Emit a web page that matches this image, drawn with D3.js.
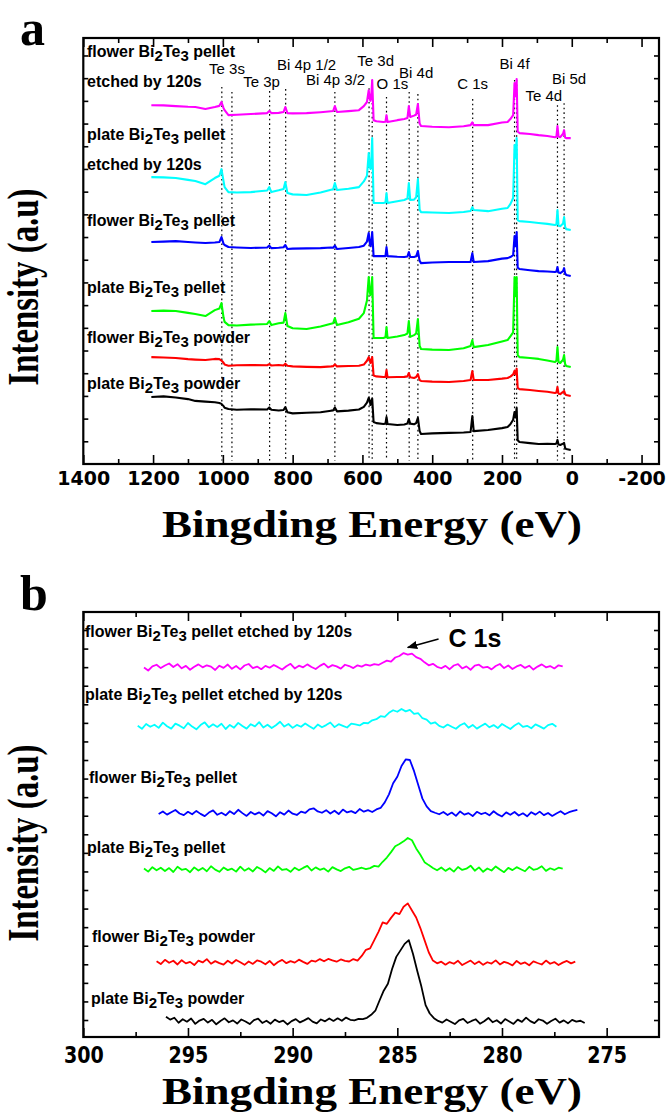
<!DOCTYPE html>
<html><head><meta charset="utf-8">
<script src="https://cdn.jsdelivr.net/npm/d3@7"></script>
<style>body{margin:0;background:#fff}svg{display:block}</style>
</head><body>
<svg id="c" width="670" height="1117"></svg>
<script>
// ---------------- DATA ----------------
// Panel a: XPS survey spectra (binding energy in eV, intensity in a.u.)
const surveyEnergy = [1205,1170,1135,1100,1079,1050,1023,1010,1004,998,995,984,960,920,873,867,861,840,826,821,815,800,760,720,690,684,679,673,640,610,596,587,582,579,577,575,572,568,560,540,534,531,528,500,480,471,467,463,452,446,441,436,432,400,352,310,290,285,281,240,200,184,176,168,164,161,158,155,150,120,95,70,48,44,41,38,33,25,22,19,16,3];

const surveyPlatePowder = [29.5,29.8,29.3,28.6,27.8,27.5,27.2,26.9,26.5,25.5,
 24.8,24.2,23.9,24.1,24.0,24.9,23.9,23.6,23.8,25.1,
 22.8,22.3,22.6,22.8,23.5,23.6,24.9,23.2,23.5,24.0,
 25.2,27.0,29.1,28.0,26.0,26.5,28.8,18.5,18.0,17.6,
 17.8,20.7,17.6,17.2,17.4,17.8,19.8,17.8,17.5,18.0,
 20.3,14.5,13.2,13.5,13.7,13.9,14.1,21.1,14.5,15.0,
 15.8,16.3,17.5,19.5,22.9,20.5,24.7,10.5,9.7,9.2,
 8.8,8.9,8.8,9.0,10.6,8.6,8.4,9.0,9.3,7.0,
 6.6,6.2];
const surveyFlowerPowder = [47.1,46.9,46.7,46.2,46.0,45.8,46.3,46.2,45.6,44.6,
 43.8,43.3,43.5,43.6,43.5,44.0,43.4,43.6,43.4,44.2,
 43.3,43.0,42.8,42.7,43.0,43.1,43.9,43.0,43.2,43.3,
 43.8,45.5,47.1,46.0,44.5,45.0,47.1,39.0,38.6,38.3,
 38.4,41.4,38.2,38.3,38.4,38.6,40.1,38.2,37.9,38.3,
 39.6,37.0,36.6,36.3,36.1,36.6,37.0,41.0,37.0,37.0,
 37.6,37.9,38.5,39.5,41.0,39.5,42.0,33.5,33.0,32.6,
 32.2,31.8,31.3,31.5,33.9,31.0,30.8,31.8,32.2,30.8,
 30.4,30.0];
const surveyPlatePellet = [67.4,67.6,67.4,66.6,66.1,65.2,67.8,68.5,70.9,64.5,
 62.6,61.2,61.0,61.4,61.7,63.0,61.2,62.0,62.3,66.5,
 60.8,59.8,59.5,60.6,61.8,62.0,64.3,61.2,62.5,64.0,
 66.5,72.0,82.4,76.0,74.4,76.0,82.4,55.5,55.5,55.5,
 55.8,60.3,55.5,56.2,56.8,57.5,63.0,56.0,56.8,57.5,
 63.9,52.0,50.7,50.4,50.2,51.0,52.0,54.6,51.5,52.4,
 54.0,54.6,56.2,58.0,82.4,74.0,82.4,48.0,47.1,46.7,
 46.3,45.6,44.9,45.5,51.5,45.0,44.5,46.0,48.0,44.0,
 43.2,42.7];
const surveyFlowerPellet = [97.8,98.0,98.2,97.8,97.6,97.4,97.6,97.8,100.0,97.0,
 96.5,95.6,95.4,95.2,95.4,96.2,95.1,95.3,95.5,96.5,
 94.7,94.9,95.0,95.1,95.4,95.3,96.2,94.7,95.2,95.6,
 96.2,98.0,101.8,97.5,96.0,97.0,102.2,91.6,91.6,91.6,
 91.6,95.6,91.6,91.3,91.2,91.4,93.4,91.2,91.2,91.5,
 93.8,89.5,88.5,88.8,89.0,89.0,89.0,92.9,89.0,89.4,
 90.5,90.7,91.2,92.0,100.4,96.0,102.2,86.5,85.9,85.4,
 85.0,84.8,84.6,84.8,86.8,84.4,84.1,85.0,86.3,84.0,
 83.3,82.8];
const surveyPlateEtched = [126.4,126.3,126.0,125.2,124.7,123.3,126.0,127.0,129.9,124.5,
 122.0,119.8,119.6,119.8,120.5,122.0,119.8,120.6,121.2,124.2,
 119.4,118.8,118.5,119.6,120.8,121.0,123.8,120.7,121.3,122.0,
 124.5,127.0,137.0,131.0,130.0,131.5,143.6,115.0,115.0,115.0,
 115.2,119.4,115.0,115.8,116.3,117.0,123.8,116.3,116.5,117.5,
 125.5,112.0,111.0,110.8,110.6,111.0,111.5,113.2,111.9,111.4,
 112.5,112.8,114.5,117.2,140.5,135.0,143.6,107.5,107.0,106.6,
 106.2,105.8,105.3,105.6,111.9,105.0,104.8,106.0,108.8,104.5,
 103.5,103.1];
const surveyFlowerEtched = [158.1,158.0,157.7,157.4,157.3,156.4,157.3,157.8,159.5,156.8,
 155.9,153.7,153.9,154.2,154.6,155.5,154.6,154.7,155.1,157.3,
 154.6,154.5,154.6,155.0,155.4,155.5,157.7,155.1,155.5,155.9,
 157.7,159.5,164.7,161.0,160.0,161.5,169.2,151.5,151.0,150.7,
 150.8,153.7,150.7,151.5,152.0,152.4,157.7,152.9,153.5,154.0,
 158.6,150.0,148.9,148.6,148.4,148.8,149.3,150.5,149.3,149.3,
 150.5,150.7,152.0,153.7,167.8,162.0,169.6,146.5,145.8,145.4,
 144.9,144.5,144.0,144.2,148.9,144.3,144.0,145.5,147.1,143.8,
 143.6,143.6];

const surveyNames = ["plate Bi_2Te_3 powder","flower Bi_2Te_3 powder","plate Bi_2Te_3 pellet","flower Bi_2Te_3 pellet","plate Bi_2Te_3 pellet etched by 120s","flower Bi_2Te_3 pellet etched by 120s"];
const seriesColors = ["#000000","#ff0000","#00ff00","#0000ff","#00ffff","#ff00ff"];

// reference lines for the core levels (eV) and their upper end (a.u.)
const peakLineEnergy = [1003,974,866,820,679,581,572,531,466,441,284,164,158,41,22];
const peakLineTop = [166.1,163.9,164.3,165.2,163.9,165.6,169.2,161.7,163.9,163.0,160.8,169.2,169.2,158.1,159.0];
const peakLabels = ["Te 3s","Te 3p","Bi 4p 1/2","Bi 4p 3/2","Te 3d","O 1s","Bi 4d","C 1s","Bi 4f","Bi 5d","Te 4d"];

const surveyTickLabels = [1400,1200,1000,800,600,400,200,0,-200];
const surveyMinorTicks = [1300,1100,900,700,500,300,100,-100];

// Panel b: C 1s high resolution spectra; first energy of each scan (eV), scan step 0.2 eV
const c1sStart = [296.05,296.5,297.1,296.4,297.4,297.1];
const c1sStep = 0.2;
const c1sPlatePowder = [1.8,0.2,1.2,-1.5,0.4,-0.9,0.8,-2.1,-0.3,0.6,
 -1.4,0.1,-2.3,-0.5,0.9,-1.2,-0.2,-1.9,0.3,-0.8,
 -2.2,-0.1,0.7,-1.6,-0.4,-2.0,0.2,-1.1,-0.3,-2.4,
 -0.6,0.5,-1.3,-0.2,1.0,-0.9,-1.8,0.3,-0.7,0.8,
 -0.5,0.9,-0.4,1.3,0.1,-0.2,0.6,
 0.5,1.2,2.8,5.0,10.5,15.8,19.5,27.5,34.0,37.5,41.0,43.0,35.5,26.5,18.0,8.0,3.5,1.0,-0.5,
 -1.4,0.3,-0.9,-2.2,-0.2,0.6,-1.6,-0.5,0.4,-2.0,
 -0.7,1.1,-1.2,-0.1,-1.9,0.5,-0.8,-2.1,0.2,-1.0,
 1.3,-0.6,-1.7,0.4,-0.3,-2.0,-0.5,0.7,-1.4,-0.2,
 -1.8,0.1,-0.9,-0.4,-1.6];
const c1sFlowerPowder = [31.6,30.1,32.4,30.8,31.9,29.9,32.2,30.5,31.3,29.6,
 32.0,31.0,32.8,30.3,31.7,30.6,29.8,31.9,30.4,32.3,
 31.1,29.7,31.5,30.2,32.1,31.4,30.0,31.8,29.5,31.2,
 32.4,30.6,31.7,30.9,32.5,31.3,30.2,32.0,31.5,32.8,
 31.6,32.9,32.1,31.4,32.6,31.8,
 31.5,32.8,32.0,34.5,37.8,38.6,43.0,47.5,52.6,51.8,55.0,57.8,57.0,61.0,62.8,59.0,55.2,49.5,43.0,36.5,32.0,30.5,
 31.4,29.8,31.2,30.3,31.9,29.6,30.8,32.0,30.1,31.5,
 29.7,31.1,30.4,32.1,29.9,31.3,30.6,29.4,31.8,30.2,
 31.0,29.5,31.6,30.7,29.9,32.0,30.3,31.2,29.6,30.9,
 31.8,30.5,31.4];
const c1sPlatePellet = [81.6,79.9,82.3,80.6,82.0,80.2,81.8,79.7,82.5,80.9,
 81.4,79.6,82.2,80.5,81.9,80.1,82.8,81.0,79.8,82.1,
 80.7,81.5,79.9,82.6,80.4,81.7,80.0,82.4,81.2,79.5,
 81.8,80.3,82.7,80.8,81.3,79.8,82.0,80.6,81.9,83.0,
 80.5,82.2,80.9,81.6,79.9,82.3,81.1,80.2,81.7,82.5,
 80.8,81.4,82.0,81.2,
 81.8,83.0,82.6,85.2,87.5,90.4,93.6,94.8,96.2,98.0,96.8,92.4,89.0,85.0,83.4,81.9,
 80.6,82.1,80.3,81.7,79.9,82.4,80.8,81.5,83.1,80.4,
 82.2,79.8,81.6,80.5,82.7,81.0,79.6,81.9,80.7,82.3,
 81.2,80.1,82.5,80.9,81.4,82.8,80.3,81.7,80.8,82.0,
 81.5];
const c1sFlowerPellet = [110.9,112.3,110.6,111.9,113.1,111.2,110.3,112.1,110.8,112.6,
 111.0,109.8,111.7,112.9,110.5,111.6,110.2,112.4,110.9,113.2,
 111.4,109.9,112.0,110.7,111.8,110.1,112.5,111.3,109.7,111.9,
 110.6,112.8,111.1,110.4,112.2,111.5,113.4,114.0,112.3,111.6,
 113.0,111.2,112.7,110.9,113.3,111.8,112.5,111.4,113.6,112.2,
 113.0,
 112.0,113.4,114.2,117.2,121.5,127.5,131.0,136.8,140.3,140.0,134.0,126.5,119.2,115.0,112.5,111.6,
 110.8,112.0,110.4,111.7,109.9,112.3,110.6,111.4,109.8,112.1,
 110.9,111.6,110.2,112.4,110.7,109.6,111.8,110.5,112.0,110.1,
 111.3,109.7,111.9,110.6,112.2,110.3,111.5,109.9,111.2,112.4,
 110.8,111.9,112.6,113.1];
const c1sPlateEtched = [158.4,156.8,159.4,157.9,159.0,157.3,160.1,158.2,156.9,159.6,
 158.5,157.1,159.9,158.0,156.5,158.8,160.3,157.6,159.2,157.8,
 159.5,156.7,158.9,157.4,160.0,158.3,156.9,159.3,158.1,160.4,
 157.5,159.0,157.2,158.7,160.6,158.0,159.4,157.3,158.9,157.9,
 159.7,158.2,156.8,159.1,157.6,158.8,160.2,157.7,159.3,158.4,
 157.5,159.6,
 159.2,158.6,160.0,159.8,161.4,162.0,163.6,163.2,165.4,166.8,166.0,167.5,166.2,167.0,164.8,165.2,162.5,161.8,159.6,160.3,158.4,
 157.5,159.1,157.9,156.8,158.7,159.8,157.4,158.9,156.9,158.3,
 159.6,157.6,158.8,157.2,159.4,158.0,156.7,158.6,159.9,157.8,
 158.4,157.1,159.2,158.1,156.9,158.8,159.5,157.9];
const c1sFlowerEtched = [189.8,188.2,190.4,191.3,189.5,190.9,192.0,190.1,191.6,189.4,
 190.7,188.6,190.2,191.5,189.9,191.0,190.3,188.5,190.8,189.6,
 191.4,189.1,190.6,188.8,190.9,191.7,189.5,190.3,188.9,190.7,
 189.7,191.2,190.0,188.7,190.5,191.8,189.3,190.8,189.9,191.5,
 190.1,189.0,190.7,191.9,189.8,191.1,190.4,189.2,191.3,190.6,
 189.5,191.0,190.3,191.4,
 190.8,191.6,191.2,192.4,193.5,193.0,195.2,196.0,197.6,196.8,197.3,195.4,194.5,192.6,191.0,191.8,190.2,
 189.4,190.7,188.9,190.9,191.6,189.3,190.4,188.6,190.8,191.3,
 189.7,190.2,188.8,190.6,191.7,189.5,190.9,189.0,190.4,191.2,
 189.6,190.8,188.7,190.3,191.5,189.9,190.6,189.3,191.0,190.4];
const c1sTickLabels = [300,295,290,285,280,275];
const c1sMinorTicks = [297.5,292.5,287.5,282.5,277.5];

// ---------------- DRAWING ----------------
const svg = d3.select("#c");
const SANS = "'Liberation Sans', Arial, sans-serif";
const SERIF = "'Liberation Serif', 'Times New Roman', serif";
const TICKF = "'DejaVu Sans', sans-serif";

const xA = d3.scaleLinear().domain([1400, -250]).range([83.3, 659]);
const yA = d3.scaleLinear().domain([0, 187.7]).range([464, 38]);
const xB = d3.scaleLinear().domain([300, 272.5]).range([83.3, 659]);
const yB = d3.scaleLinear().domain([-9.15, 219.7]).range([1037, 612]);

function frame(g, x, y, major, minor, yt, pad, fs, sx) {
  const [x0, x1] = x.range(), [yb, yt0] = y.range();
  const clean = s => { s.select(".domain").remove(); s.selectAll(".tick line").attr("stroke","#000").attr("stroke-width",1.6); };
  g.append("g").attr("transform",`translate(0,${yb})`).call(d3.axisBottom(x).tickValues(minor).tickSize(-5).tickFormat("")).call(clean);
  const ax = g.append("g").attr("transform",`translate(0,${yb})`)
    .call(d3.axisBottom(x).tickValues(major).tickSize(-9).tickPadding(pad).tickFormat(d => String(d))).call(clean);
  ax.selectAll("text").attr("font-family",TICKF).attr("font-weight","bold").attr("font-size",fs)
    .attr("fill","#000").attr("transform",`scale(${sx},1)`);
  g.append("g").attr("transform",`translate(0,${yt0})`).call(d3.axisTop(x).tickValues(minor).tickSize(-5).tickFormat("")).call(clean);
  g.append("g").attr("transform",`translate(0,${yt0})`).call(d3.axisTop(x).tickValues(major).tickSize(-9).tickFormat("")).call(clean);
  g.append("g").attr("transform",`translate(${x0},0)`).call(d3.axisLeft(y).tickValues(yt).tickSize(-5).tickFormat("")).call(clean);
  g.append("g").attr("transform",`translate(${x1},0)`).call(d3.axisRight(y).tickValues(yt).tickSize(-5).tickFormat("")).call(clean);
  g.append("rect").attr("x",x0).attr("y",yt0).attr("width",x1-x0).attr("height",yb-yt0)
    .attr("fill","none").attr("stroke","#000").attr("stroke-width",2.2);
}

function stretched(g, str, cx, by, size, targetW, family) {
  const t = g.append("text").attr("font-family",family).attr("font-weight","bold")
    .attr("font-size",size).attr("text-anchor","middle").text(str);
  const L = t.node().getComputedTextLength();
  t.attr("transform",`translate(${cx},${by}) scale(${targetW/L},1)`);
}
function yTitle(g, cx, cy, len, sx) {
  const t = g.append("text").attr("font-family",SERIF).attr("font-weight","bold")
    .attr("font-size",30).attr("text-anchor","middle").text("Intensity (a.u)");
  const L = t.node().getComputedTextLength();
  t.attr("font-size", 30*len/L);
  t.attr("transform",`translate(${cx},${cy}) scale(${sx},1) rotate(-90)`);
}
function sampleLabel(g, str, x, y, size) {
  const t = g.append("text").attr("x",x).attr("y",y).attr("font-family",SANS)
    .attr("font-weight","bold").attr("font-size",size).attr("fill","#000");
  let low = false;
  str.split(/(_\d)/).filter(s => s.length).forEach(p => {
    if (p[0] === "_") { t.append("tspan").attr("dy",4).attr("font-size",size-1).text(p.slice(1)); low = true; }
    else { t.append("tspan").attr("dy", low ? -4 : 0).text(p); low = false; }
  });
}

// ---- Panel a ----
const ga = svg.append("g");
frame(ga, xA, yA, surveyTickLabels, surveyMinorTicks, d3.range(10, 181, 10), 8, 19, 1);

ga.append("g").selectAll("line").data(peakLineEnergy).join("line")
  .attr("x1", d => xA(d)).attr("x2", d => xA(d))
  .attr("y1", (d,i) => yA(peakLineTop[i])).attr("y2", yA(1.5))
  .attr("stroke","#000").attr("stroke-width",1.2).attr("stroke-dasharray","1.6,3");

const surveySeries = [surveyPlatePowder, surveyFlowerPowder, surveyPlatePellet, surveyFlowerPellet, surveyPlateEtched, surveyFlowerEtched];
const lineA = d3.line().x((d,i) => xA(surveyEnergy[i])).y(d => yA(d));
ga.append("g").selectAll("path").data(surveySeries).join("path")
  .attr("d", lineA).attr("fill","none").attr("stroke",(d,i) => seriesColors[i])
  .attr("stroke-width",2.1).attr("stroke-linejoin","round");

// peak labels (eV centre, a.u. baseline)
const peakLabelAt = [[988,171.8],[889,166.1],[760,173.6],[677,167.0],[562,175.3],[514,165.2],[446,170.0],[284,165.2],[164,174.0],[8,167.4],[80,159.9]];
ga.append("g").selectAll("text").data(peakLabels).join("text")
  .attr("x",(d,i) => xA(peakLabelAt[i][0])).attr("y",(d,i) => yA(peakLabelAt[i][1]))
  .attr("text-anchor","middle").attr("font-family",SANS).attr("font-size",15).text(d => d);

// sample labels
[["flower Bi_2Te_3 pellet",57],["etched by 120s",87],["plate Bi_2Te_3 pellet",140],["etched by 120s",170],
 ["flower Bi_2Te_3 pellet",226],["plate Bi_2Te_3 pellet",293],["flower Bi_2Te_3 powder",343],["plate Bi_2Te_3 powder",389]]
 .forEach(([s,y]) => sampleLabel(ga, s, 87, y, 16));

ga.append("text").attr("x",20).attr("y",45).attr("font-family",SERIF).attr("font-weight","bold").attr("font-size",50).text("a");
stretched(ga, "Bingding Energy (eV)", 372, 537, 38, 420, SERIF);
yTitle(ga, 38, 287, 197, 1.33);

// ---- Panel b ----
const gb = svg.append("g");
frame(gb, xB, yB, c1sTickLabels, c1sMinorTicks, d3.range(0, 211, 10), 10, 23, 0.83);
const c1sSeries = [c1sPlatePowder, c1sFlowerPowder, c1sPlatePellet, c1sFlowerPellet, c1sPlateEtched, c1sFlowerEtched];
gb.append("g").selectAll("path").data(c1sSeries).join("path")
  .attr("d", (d,k) => d3.line().x((v,i) => xB(c1sStart[k] - i*c1sStep)).y(v => yB(v))(d))
  .attr("fill","none").attr("stroke",(d,i) => seriesColors[i])
  .attr("stroke-width",1.8).attr("stroke-linejoin","round");

[[5,85,637],[4,85,700],[3,89,783],[2,87,853],[1,92,942],[0,91,1004]]
  .forEach(([k,x,y]) => sampleLabel(gb, surveyNames[k], x, y, 16));

// C 1s annotation
svg.append("defs").append("marker").attr("id","ah").attr("viewBox","0 0 10 10").attr("refX",9).attr("refY",5)
  .attr("markerWidth",7).attr("markerHeight",7).attr("orient","auto")
  .append("path").attr("d","M0,1 L10,5 L0,9 z").attr("fill","#000");
gb.append("line").attr("x1",xB(283.03)).attr("y1",yB(205.2)).attr("x2",xB(284.5)).attr("y2",yB(200.6))
  .attr("stroke","#000").attr("stroke-width",1.5).attr("marker-end","url(#ah)");
gb.append("text").attr("x",xB(282.55)).attr("y",yB(200.9)).attr("font-family",SANS).attr("font-weight","bold")
  .attr("font-size",25).text("C 1s");

gb.append("text").attr("x",20).attr("y",610).attr("font-family",SERIF).attr("font-weight","bold").attr("font-size",50).text("b");
stretched(gb, "Bingding Energy (eV)", 372, 1104, 37, 420, SERIF);
yTitle(gb, 38, 843, 197, 1.33);
</script>
</body></html>
